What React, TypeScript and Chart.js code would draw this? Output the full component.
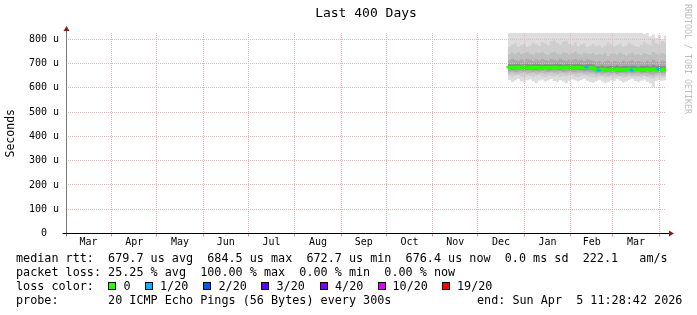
import React, { useEffect, useRef } from 'react';
import { Chart, registerables } from 'chart.js';

Chart.register(...registerables);

const FONT = "'DejaVu Sans Mono', monospace";

// ---------- time range & axis labels ----------
const rangeStart = '2025-03-01T11:28:42Z';
const rangeEnd = '2026-04-05T11:28:42Z';

const monthStarts = [
  '2025-03-01', '2025-04-01', '2025-05-01', '2025-06-01', '2025-07-01', '2025-08-01', '2025-09-01',
  '2025-10-01', '2025-11-01', '2025-12-01', '2026-01-01', '2026-02-01', '2026-03-01', '2026-04-01',
];
const monthLabels = ['Mar', 'Apr', 'May', 'Jun', 'Jul', 'Aug', 'Sep', 'Oct', 'Nov', 'Dec', 'Jan', 'Feb', 'Mar'];

const yTickValues = [0, 50, 100, 150, 200, 250, 300, 350, 400, 450, 500, 550, 600, 650, 700, 750, 800];
const yTickLabels = ['0  ', '', '100 u', '', '200 u', '', '300 u', '', '400 u', '', '500 u', '', '600 u', '', '700 u', '', '800 u'];
const yMax = 826;

// ---------- samples (microseconds) ----------
const sampleDates = [
  '2025-12-21', '2025-12-23', '2025-12-25', '2025-12-27', '2025-12-29', '2025-12-31',
  '2026-01-02', '2026-01-04', '2026-01-06', '2026-01-08', '2026-01-10', '2026-01-12', '2026-01-14', '2026-01-16',
  '2026-01-18', '2026-01-20', '2026-01-22', '2026-01-24', '2026-01-26', '2026-01-28', '2026-01-30',
  '2026-02-01', '2026-02-03', '2026-02-05', '2026-02-07', '2026-02-09', '2026-02-11', '2026-02-13', '2026-02-15',
  '2026-02-17', '2026-02-19', '2026-02-21', '2026-02-23', '2026-02-25', '2026-02-27',
  '2026-03-01', '2026-03-03', '2026-03-05', '2026-03-07', '2026-03-09', '2026-03-11', '2026-03-13', '2026-03-15',
  '2026-03-17', '2026-03-19', '2026-03-21', '2026-03-23', '2026-03-25', '2026-03-27', '2026-03-29', '2026-03-31',
  '2026-04-02', '2026-04-04', '2026-04-05T11:28:42Z',
];

const medianRtt = [
  683.2, 684.1, 683.5, 682.8, 683.9, 684.5, 683.0, 682.6, 683.7, 684.2,
  683.4, 682.9, 684.0, 683.6, 682.7, 683.8, 684.3, 683.1, 682.5, 683.9,
  684.4, 683.2, 682.8, 683.6, 684.0, 682.4, 681.8, 683.1, 682.9, 681.5,
  675.2, 674.1, 676.3, 675.0, 673.8, 674.6, 676.0, 675.4, 674.2, 672.7,
  675.8, 676.5, 674.9, 675.3, 677.0, 675.6, 674.4, 676.2, 675.1, 677.4,
  675.9, 676.8, 676.0, 676.4,
];

const lostPings = [
  0, 0, 0, 0, 0, 0, 0, 0, 0, 0,
  0, 0, 0, 0, 0, 0, 0, 0, 0, 0,
  0, 0, 0, 0, 0, 0, 1, 0, 0, 0,
  1, 0, 0, 0, 0, 0, 0, 0, 0, 0,
  0, 1, 0, 0, 0, 0, 0, 0, 0, 0,
  1, 0, 0, 0,
];

const smokeHi1 = [
  880, 900, 870, 890, 910, 885, 875, 895, 905, 880,
  870, 890, 900, 885, 915, 895, 880, 870, 905, 890,
  875, 885, 900, 910, 880, 870, 890, 905, 885, 875,
  895, 880, 900, 870, 890, 885, 905, 875, 895, 880,
  870, 890, 900, 860, 875, 850, 822, 835, 812, 820,
  806, 818, 800, 815,
];
const smokeLo1 = [
  628, 632, 624, 630, 636, 626, 622, 631, 634, 627,
  620, 629, 633, 625, 630, 637, 628, 623, 631, 626,
  619, 628, 634, 630, 625, 632, 638, 629, 624, 621,
  627, 633, 626, 620, 624, 630, 627, 635, 629, 622,
  626, 631, 636, 628, 623, 629, 633, 625, 618, 604,
  627, 632, 629, 631,
];
const smokeHi2 = [
  772, 768, 778, 784, 770, 775, 781, 769, 776, 786,
  779, 772, 788, 783, 774, 792, 796, 785, 778, 790,
  794, 781, 776, 787, 770, 779, 784, 768, 775, 782,
  771, 777, 766, 773, 788, 780, 771, 776, 783, 769,
  774, 786, 779, 772, 768, 777, 790, 781, 774, 798,
  785, 779, 792, 786,
];
const smokeLo2 = [
  648, 651, 646, 650, 653, 647, 645, 652, 649, 646,
  650, 654, 648, 645, 651, 649, 647, 652, 646, 650,
  648, 651, 653, 647, 645, 650, 652, 648, 646, 644,
  642, 646, 649, 643, 645, 648, 644, 647, 650, 643,
  645, 648, 646, 642, 647, 644, 649, 645, 641, 638,
  646, 648, 644, 646,
];
const smokeHi3 = [
  742, 738, 745, 740, 747, 739, 744, 750, 741, 737,
  746, 743, 748, 740, 736, 745, 749, 742, 739, 747,
  744, 738, 743, 750, 741, 736, 745, 742, 739, 744,
  735, 740, 737, 744, 731, 739, 742, 736, 745, 738,
  733, 741, 746, 737, 740, 734, 743, 739, 736, 748,
  741, 737, 744, 740,
];
const smokeLo3 = [
  660, 658, 662, 659, 657, 661, 663, 658, 660, 662,
  657, 659, 661, 658, 660, 663, 659, 657, 661, 660,
  658, 662, 659, 657, 660, 661, 658, 656, 659, 657,
  652, 655, 651, 654, 650, 653, 656, 652, 649, 654,
  652, 655, 651, 653, 650, 654, 652, 649, 651, 647,
  653, 655, 651, 653,
];
const smokeHi4 = [
  716, 713, 719, 715, 712, 718, 714, 720, 716, 711,
  717, 714, 719, 715, 712, 718, 716, 713, 720, 715,
  712, 717, 714, 719, 713, 716, 711, 718, 715, 712,
  708, 711, 706, 710, 713, 707, 711, 709, 705, 712,
  708, 710, 714, 707, 711, 709, 706, 712, 708, 715,
  710, 707, 712, 709,
];
const smokeLo4 = [
  667, 666, 668, 665, 667, 669, 666, 668, 667, 665,
  668, 666, 669, 667, 665, 668, 666, 667, 669, 665,
  667, 668, 666, 665, 667, 668, 666, 667, 665, 664,
  660, 662, 659, 661, 663, 660, 662, 658, 661, 663,
  659, 662, 660, 661, 663, 659, 661, 660, 658, 656,
  661, 662, 660, 661,
];
const smokeHi5 = [
  698, 700, 697, 699, 701, 696, 698, 700, 697, 699,
  701, 698, 696, 700, 698, 697, 699, 701, 698, 696,
  700, 698, 697, 699, 701, 697, 695, 698, 699, 696,
  690, 689, 692, 688, 690, 691, 689, 692, 688, 690,
  691, 689, 692, 690, 688, 691, 690, 692, 689, 694,
  690, 691, 689, 690,
];
const smokeLo5 = [
  676, 677, 675, 676, 677, 678, 675, 676, 677, 676,
  675, 677, 676, 678, 675, 676, 677, 676, 675, 677,
  678, 676, 675, 677, 676, 674, 673, 676, 675, 673,
  668, 667, 669, 667, 666, 668, 669, 667, 666, 664,
  668, 669, 667, 668, 670, 667, 666, 669, 667, 670,
  668, 669, 668, 669,
];

const smokeColors = ['#dddddd', '#cecece', '#bfbfbf', '#a9a9a9', '#8c8c8c'];

// ---------- legend ----------
const lossLabels = ['0', '1/20', '2/20', '3/20', '4/20', '10/20', '19/20'];
const lossThresholds = [0, 1, 2, 3, 4, 10, 19];
const lossColors = ['#26ff00', '#00b8ff', '#0059ff', '#5e00ff', '#7e00ff', '#dd00ff', '#ff0000'];
const lossSquareX = [108, 145, 203, 261, 320, 378, 442];
const lossLabelX = [123.5, 160, 218.5, 276.5, 335, 392.5, 457];

const rttLine = 'median rtt:  679.7 us avg  684.5 us max  672.7 us min  676.4 us now  0.0 ms sd  222.1   am/s';
const lossLine = 'packet loss: 25.25 % avg  100.00 % max  0.00 % min  0.00 % now';
const lossColorTitle = 'loss color:';
const probeLine = 'probe:       20 ICMP Echo Pings (56 Bytes) every 300s';
const endLine = 'end: Sun Apr  5 11:28:42 2026';

const MGRID = '#ecb4b4';
const GRID = '#d2d2d2';

function lossColor(n: number): string {
  let idx = 0;
  for (let i = 0; i < lossThresholds.length; i++) if (n >= lossThresholds[i]) idx = i;
  return lossColors[idx];
}

const axisDecor = {
  id: 'axisDecor',
  afterDraw(chart: any) {
    const { ctx, chartArea } = chart;
    const { left, right, top, bottom } = chartArea;
    const ax = Math.round(left) + 0.5;
    const ay = Math.floor(bottom) + 0.5;
    ctx.save();
    ctx.lineWidth = 1;
    ctx.strokeStyle = '#7a7a7a';
    ctx.beginPath();
    ctx.moveTo(ax, ay + 3);
    ctx.lineTo(ax, top - 3);
    ctx.stroke();
    ctx.strokeStyle = '#000000';
    ctx.beginPath();
    ctx.moveTo(ax - 4, ay);
    ctx.lineTo(right + 3, ay);
    ctx.stroke();
    ctx.fillStyle = '#8b1c1c';
    ctx.beginPath();
    ctx.moveTo(ax, top - 7);
    ctx.lineTo(ax - 3, top - 2);
    ctx.lineTo(ax + 3, top - 2);
    ctx.closePath();
    ctx.fill();
    ctx.beginPath();
    ctx.moveTo(right + 8, ay);
    ctx.lineTo(right + 3, ay - 3);
    ctx.lineTo(right + 3, ay + 3);
    ctx.closePath();
    ctx.fill();
    ctx.restore();
  },
};

function buildConfig(): any {
  const xMin = Date.parse(rangeStart);
  const xMax = Date.parse(rangeEnd);
  const starts = monthStarts.map((d) => Date.parse(d));
  const boundaries = starts.filter((v) => v > xMin && v < xMax);
  const boundarySet = new Set(boundaries);
  const labelMap = new Map<number, string>();
  monthLabels.forEach((lab, i) => labelMap.set((starts[i] + starts[i + 1]) / 2, lab));
  const xTicks = [...boundaries, ...Array.from(labelMap.keys())].sort((a, b) => a - b);

  const xs = sampleDates.map((d) => Date.parse(d));
  const pts = (arr: number[]) => arr.map((y, i) => ({ x: xs[i], y }));

  const band = (hi: number[], lo: number[], color: string) => [
    {
      data: pts(hi),
      stepped: 'after',
      fill: '+1',
      backgroundColor: color,
      borderColor: 'rgba(0,0,0,0)',
      borderWidth: 0,
      pointRadius: 0,
    },
    {
      data: pts(lo),
      stepped: 'after',
      fill: false,
      borderColor: 'rgba(0,0,0,0)',
      borderWidth: 0,
      pointRadius: 0,
    },
  ];

  const datasets = [
    {
      data: pts(medianRtt),
      stepped: 'after',
      fill: false,
      borderColor: lossColors[0],
      borderWidth: 3,
      pointRadius: 0,
      segment: {
        borderColor: (c: any) => lossColor(lostPings[c.p0DataIndex]),
      },
    },
    ...band(smokeHi5, smokeLo5, smokeColors[4]),
    ...band(smokeHi4, smokeLo4, smokeColors[3]),
    ...band(smokeHi3, smokeLo3, smokeColors[2]),
    ...band(smokeHi2, smokeLo2, smokeColors[1]),
    ...band(smokeHi1, smokeLo1, smokeColors[0]),
  ];

  return {
    type: 'line',
    data: { datasets },
    options: {
      animation: false,
      responsive: false,
      events: [],
      layout: { padding: { left: 0, right: 31, top: 0, bottom: 61.5 } },
      plugins: {
        legend: { display: false },
        tooltip: { enabled: false },
        title: {
          display: true,
          text: 'Last 400 Days',
          fullSize: false,
          color: '#000',
          font: { family: FONT, size: 13, weight: 'normal' },
          padding: { top: 6, bottom: 11.4 },
        },
      },
      scales: {
        x: {
          type: 'linear',
          min: xMin,
          max: xMax,
          afterFit: (s: any) => {
            s.height = 20;
          },
          afterBuildTicks: (axis: any) => {
            axis.ticks = xTicks.map((v) => ({ value: v }));
          },
          grid: {
            z: 1,
            color: (c: any) => (c.tick && boundarySet.has(c.tick.value) ? MGRID : 'rgba(0,0,0,0)'),
            tickColor: (c: any) => (c.tick && boundarySet.has(c.tick.value) ? '#e08c8c' : 'rgba(0,0,0,0)'),
            drawTicks: true,
            tickLength: 3,
            lineWidth: 1,
          },
          border: { display: false, dash: [1, 1] },
          ticks: {
            autoSkip: false,
            maxRotation: 0,
            minRotation: 0,
            padding: 0,
            color: '#000',
            font: { family: FONT, size: 10 },
            callback: (v: number) => labelMap.get(v) ?? '',
          },
        },
        y: {
          type: 'linear',
          min: 0,
          max: yMax,
          afterFit: (s: any) => {
            s.width = 66;
          },
          afterBuildTicks: (axis: any) => {
            axis.ticks = yTickValues.map((v) => ({ value: v }));
          },
          grid: {
            z: 1,
            color: (c: any) => (c.tick && c.tick.value % 100 === 0 ? MGRID : GRID),
            drawTicks: false,
            lineWidth: 1,
          },
          border: { display: false, dash: [1, 1] },
          ticks: {
            padding: 7,
            color: '#000',
            font: { family: FONT, size: 10 },
            callback: (v: number) => {
              const i = yTickValues.indexOf(v);
              return i >= 0 ? yTickLabels[i] : '';
            },
          },
          title: {
            display: true,
            text: 'Seconds',
            color: '#000',
            font: { family: FONT, size: 11.5 },
            padding: { top: 4, bottom: 0 },
          },
        },
      },
    },
    plugins: [axisDecor],
  };
}

const textStyle: React.CSSProperties = {
  position: 'absolute',
  fontFamily: FONT,
  fontSize: '11.78px',
  lineHeight: '14px',
  whiteSpace: 'pre',
  color: '#000',
  margin: 0,
};

export default function App() {
  const ref = useRef<HTMLCanvasElement>(null);
  useEffect(() => {
    if (!ref.current) return;
    Chart.defaults.font.family = FONT;
    const chart = new Chart(ref.current, buildConfig());
    return () => chart.destroy();
  }, []);

  return (
    <div
      style={{
        position: 'absolute',
        left: 0,
        top: 0,
        width: 697,
        height: 315,
        background: '#ffffff',
        overflow: 'hidden',
      }}
    >
      <canvas ref={ref} width={697} height={315} style={{ position: 'absolute', left: 0, top: 0, display: 'block' }} />
      <div
        style={{
          position: 'absolute',
          left: 683,
          top: 4,
          width: 10,
          writingMode: 'vertical-rl',
          fontFamily: FONT,
          fontSize: '8.3px',
          lineHeight: '10px',
          color: '#bdbdbd',
          whiteSpace: 'pre',
        }}
      >
        RRDTOOL / TOBI OETIKER
      </div>
      <div style={{ ...textStyle, left: 16, top: 251 }}>{rttLine}</div>
      <div style={{ ...textStyle, left: 16, top: 265 }}>{lossLine}</div>
      <div style={{ ...textStyle, left: 16, top: 279 }}>{lossColorTitle}</div>
      {lossLabels.map((lab, i) => (
        <React.Fragment key={lab}>
          <div
            style={{
              position: 'absolute',
              left: lossSquareX[i],
              top: 282,
              width: 8,
              height: 8,
              boxSizing: 'border-box',
              border: '1px solid #000',
              background: lossColors[i],
            }}
          />
          <div style={{ ...textStyle, left: lossLabelX[i], top: 279 }}>{lab}</div>
        </React.Fragment>
      ))}
      <div style={{ ...textStyle, left: 16, top: 293 }}>{probeLine}</div>
      <div style={{ ...textStyle, left: 477, top: 293 }}>{endLine}</div>
    </div>
  );
}
